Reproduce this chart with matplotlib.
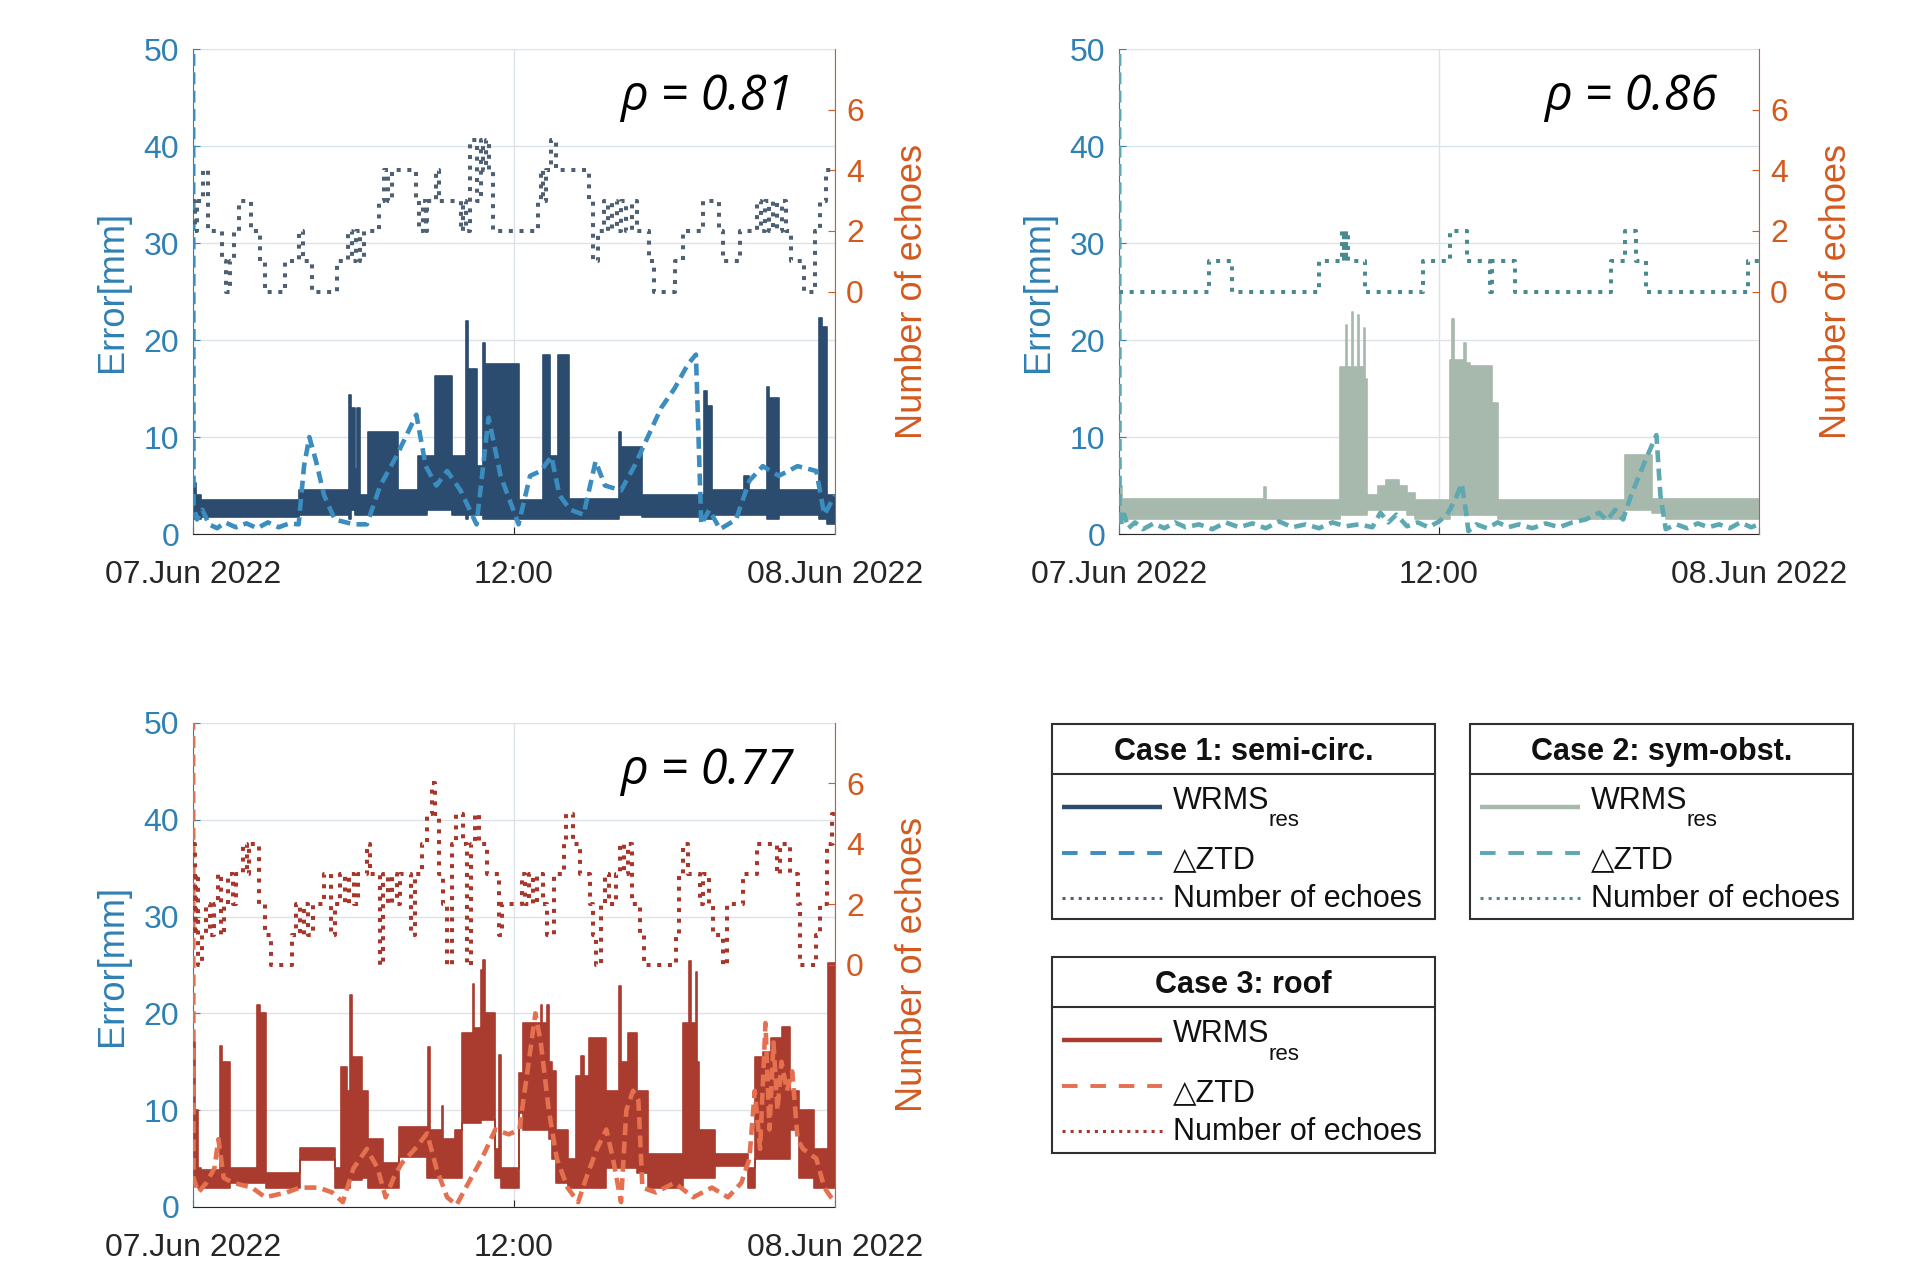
import numpy as np
import matplotlib.pyplot as plt
from matplotlib.patches import Rectangle

plt.rcParams['font.family'] = ['Liberation Sans', 'DejaVu Sans']

# time axis in hours after 07.Jun 2022 00:00
xticks = [0, 12, 24]
xticklabels = ['07.Jun 2022', '12:00', '08.Jun 2022']

# ---- Case 1: semi-circ. ----
t1_wrms = [0.0, 0.12, 0.3, 3.98, 5.85, 5.92, 6.05, 6.13, 6.24, 6.55, 7.65, 8.4, 8.74, 9.05, 9.67,
           10.22, 10.28, 10.61, 10.84, 10.9, 12.17, 13.1, 13.35, 13.65, 14.07, 15.91, 16.0, 16.77,
           19.1, 19.22, 19.4, 20.6, 20.8, 21.45, 21.55, 21.92, 23.4, 23.5, 23.7, 24.0]
lo1_wrms = [1.5, 1.5, 1.8, 2.0, 1.5, 2.5, 2.0, 2.0, 2.0, 2.0, 2.0, 2.0, 2.5, 2.5, 2.0,
            1.5, 2.0, 2.0, 1.5, 1.5, 1.5, 1.5, 1.5, 1.5, 1.5, 2.0, 2.0, 1.8,
            1.5, 1.5, 2.0, 2.0, 2.0, 1.5, 1.5, 2.0, 1.5, 1.5, 1.0, 1.0]
hi1_wrms = [5.3, 4.0, 3.5, 4.5, 14.3, 13.0, 6.7, 13.0, 4.0, 10.5, 4.5, 8.0, 8.0, 16.3, 8.0,
            22.0, 17.0, 7.0, 19.7, 17.5, 3.5, 18.5, 8.0, 18.5, 3.6, 10.5, 9.0, 4.0,
            14.7, 13.2, 4.5, 6.0, 4.5, 15.2, 14.0, 4.5, 22.3, 21.3, 4.0, 4.0]
t1_ztd = [0.0, 0.02, 0.15, 0.35, 0.6, 0.9, 1.2, 1.6, 2.0, 2.4, 2.8, 3.2, 3.6, 3.95, 4.15,
          4.35, 4.6, 4.9, 5.3, 6.0, 6.5, 7.0, 7.6, 8.35, 8.7, 9.1, 9.5, 10.0, 10.6, 11.05,
          11.5, 12.17, 12.6, 13.0, 13.4, 13.7, 14.1, 14.6, 15.05, 15.4, 16.0, 16.5, 17.0, 17.5,
          18.0, 18.5, 18.8, 19.0, 19.3, 19.7, 20.3, 20.8, 21.3, 21.9, 22.6, 23.3, 23.6, 24.0]
v1_ztd = [60, 3.0, 1.5, 2.5, 1.0, 0.6, 1.2, 0.7, 1.1, 0.6, 1.2, 0.7, 1.1, 1.0, 7.0,
          10.0, 7.5, 4.0, 1.5, 1.0, 1.0, 5.0, 8.0, 12.3, 7.0, 5.0, 6.5, 4.5, 1.0, 12.0,
          6.0, 1.0, 6.0, 6.5, 8.0, 4.0, 2.5, 2.0, 7.5, 5.0, 4.5, 7.0, 10.0, 13.0,
          15.0, 17.5, 18.5, 1.0, 2.5, 0.5, 1.5, 5.5, 7.0, 6.0, 7.0, 6.5, 2.0, 4.0]
t1_echo = [0.0, 0.08, 0.16, 0.39, 0.55, 1.09, 1.25, 1.40, 1.55, 1.72, 2.18, 2.50, 2.70, 3.43, 3.98,
           4.10, 4.45, 5.38, 5.80, 5.95, 6.10, 6.25, 6.40, 6.95, 7.15, 7.30, 7.45, 8.35, 8.45, 8.60,
           8.70, 8.75, 9.10, 9.20, 10.00, 10.10, 10.20, 10.37, 10.61, 10.76, 10.85, 10.95, 11.08,
           11.23, 12.90, 13.00, 13.10, 13.20, 13.40, 13.57, 14.82, 14.95, 15.15, 15.35, 15.50,
           15.65, 15.85, 16.00, 16.20, 16.40, 16.60, 17.05, 17.25, 18.00, 18.30, 19.05, 19.66,
           19.80, 20.45, 21.10, 21.25, 21.40, 21.55, 21.70, 21.85, 22.00, 22.15, 22.35, 22.85,
           23.25, 23.45, 23.65, 24.0]
n1_echo = [3, 2, 3, 4, 2, 1, 0, 1, 2, 3, 2, 1, 0, 1, 2,
           1, 0, 1, 2, 1, 2, 1, 2, 3, 4, 3, 4, 3, 2, 3,
           2, 3, 4, 3, 2, 3, 2, 5, 3, 5, 4, 5, 4,
           2, 3, 4, 3, 4, 5, 4, 3, 1, 2, 3, 2,
           3, 2, 3, 2, 3, 2, 1, 0, 1, 2, 3, 2,
           1, 2, 3, 2, 3, 2, 3, 2, 3, 2, 1, 0,
           2, 3, 4, 4]

# ---- Case 2: sym-obst. ----
t2_wrms = [0.0, 0.1, 5.45, 5.5, 8.28, 8.5, 8.55, 8.72, 8.77, 8.95, 9.0, 9.18, 9.23, 9.3, 9.7,
           10.0, 10.5, 10.8, 11.1, 12.42, 12.5, 12.55, 12.95, 13.0, 13.15, 13.98, 14.04, 14.22,
           18.98, 20.0, 20.5, 24.0]
lo2_wrms = [1.5, 1.5, 1.5, 1.5, 2.0, 2.0, 2.0, 2.0, 2.0, 2.0, 2.0, 2.0, 2.0, 2.5, 2.5,
            2.5, 2.5, 2.0, 1.5, 2.0, 2.0, 2.0, 2.0, 2.0, 2.0, 10.4, 2.0, 1.5,
            2.5, 2.2, 1.5, 1.5]
hi2_wrms = [5.0, 3.6, 4.9, 3.5, 17.2, 21.5, 17.2, 22.9, 17.2, 22.6, 17.2, 21.2, 16.0, 4.0, 5.0,
            5.6, 5.0, 4.2, 3.5, 17.9, 22.2, 17.9, 19.7, 17.6, 17.3, 13.5, 13.5, 3.5,
            8.1, 3.6, 3.6, 3.6]
t2_ztd = [0.0, 0.02, 0.1, 0.2, 0.35, 0.6, 0.9, 1.3, 1.7, 2.1, 2.5, 3.0, 3.5, 4.0, 4.5,
          5.0, 5.5, 6.0, 6.5, 7.0, 7.5, 8.0, 8.5, 9.0, 9.5, 9.8, 10.1, 10.4, 10.8, 11.2,
          11.6, 12.0, 12.3, 12.6, 12.85, 13.0, 13.1, 13.4, 13.8, 14.2, 14.6, 15.0, 15.5, 16.0,
          16.5, 17.0, 17.5, 18.0, 18.3, 18.6, 18.9, 19.2, 19.5, 19.8, 20.15, 20.3, 20.5, 20.9,
          21.3, 21.7, 22.1, 22.5, 22.9, 23.3, 23.7, 24.0]
v2_ztd = [60, 2.5, 1.0, 2.0, 0.6, 1.2, 0.5, 1.1, 0.6, 1.2, 0.7, 1.0, 0.5, 1.2, 0.7,
          1.1, 0.6, 1.3, 0.7, 1.0, 0.6, 1.2, 0.8, 1.0, 0.7, 2.2, 1.2, 2.0, 0.8, 1.2,
          0.7, 1.3, 2.0, 3.5, 5.2, 2.5, 0.3, 1.0, 0.6, 1.2, 0.7, 1.0, 0.6, 1.1,
          0.7, 1.2, 1.5, 2.2, 1.4, 2.5, 1.5, 4.0, 6.0, 8.0, 10.2, 4.0, 0.5, 1.0,
          0.6, 1.1, 0.7, 1.0, 0.6, 1.2, 0.7, 1.0]
t2_echo = [0, 3.36, 4.22, 7.5, 8.36, 8.45, 8.52, 8.59, 9.22, 11.41, 12.42, 13.05, 13.91, 13.98,
           14.84, 18.44, 18.98, 19.38, 19.77, 23.6, 24.0]
n2_echo = [0, 1, 0, 1, 2, 1, 2, 1, 0, 1, 2, 1, 0, 1, 0, 1, 2, 1, 0, 1, 1]

# ---- Case 3: roof ----
t3_wrms = [0.0, 0.08, 0.2, 0.3, 1.0, 1.08, 1.4, 2.4, 2.5, 2.73, 4.0, 5.3, 5.54, 5.75, 5.88,
           5.95, 6.3, 6.55, 7.1, 7.7, 8.74, 8.8, 8.86, 9.3, 9.36, 9.8, 10.05, 10.45, 10.5, 10.75,
           10.85, 10.92, 11.3, 11.45, 11.5, 12.17, 12.33, 13.0, 13.05, 13.25, 13.3, 13.42, 13.57,
           14.0, 14.3, 14.5, 14.6, 14.8, 15.45, 15.91, 16.0, 16.25, 16.6, 17.0, 18.33, 18.55,
           18.6, 18.8, 18.85, 18.9, 19.5, 20.75, 21.0, 21.3, 21.6, 22.0, 22.31, 22.65, 23.2,
           23.75, 24.0]
lo3_wrms = [3.0, 2.5, 2.0, 2.0, 2.0, 2.0, 2.5, 2.5, 2.5, 2.0, 4.9, 2.0, 2.0, 2.0, 2.8,
            2.8, 3.0, 2.0, 2.0, 5.2, 3.0, 3.0, 3.0, 3.0, 3.0, 3.0, 8.7, 8.7, 8.7, 9.0,
            9.0, 9.0, 3.0, 3.0, 2.0, 9.7, 8.0, 8.0, 8.0, 8.0, 7.0, 5.0, 2.5,
            2.0, 2.0, 2.0, 2.0, 2.0, 4.0, 4.0, 4.0, 4.0, 3.5, 2.0, 3.0, 3.0,
            3.0, 3.0, 3.0, 3.0, 4.2, 2.0, 5.0, 5.0, 5.0, 5.0, 8.0, 3.0, 2.0,
            2.0, 2.0]
hi3_wrms = [17.0, 10.0, 4.0, 3.8, 16.6, 15.0, 4.0, 20.9, 20.0, 3.5, 6.1, 4.0, 14.5, 12.0, 21.9,
            15.5, 12.0, 7.0, 4.5, 8.3, 6.0, 16.5, 8.0, 10.4, 7.0, 8.0, 18.0, 23.0, 18.5, 24.5,
            25.5, 20.0, 6.0, 15.7, 4.0, 13.8, 19.0, 20.9, 19.0, 20.9, 15.0, 14.0, 8.0,
            5.0, 13.5, 15.6, 13.5, 17.5, 12.0, 22.8, 15.0, 18.0, 12.0, 5.5, 19.0, 25.4,
            19.0, 24.3, 15.0, 8.0, 5.5, 4.0, 15.5, 16.0, 17.5, 18.6, 12.0, 10.0, 6.0,
            25.2, 25.2]
t3_ztd = [0.0, 0.02, 0.2, 0.5, 0.8, 0.95, 1.15, 1.5, 2.2, 2.7, 3.5, 4.0, 4.7, 5.2, 5.6,
          6.0, 6.5, 6.9, 7.2, 7.5, 7.8, 8.3, 8.75, 9.1, 9.5, 9.85, 10.3, 10.8, 11.3, 11.8,
          12.2, 12.5, 12.8, 13.0, 13.3, 13.6, 14.0, 14.4, 14.7, 15.1, 15.45, 15.7, 16.0, 16.2,
          16.45, 16.65, 16.8, 17.3, 18.0, 18.7, 19.4, 20.0, 20.5, 20.8, 21.0, 21.2, 21.4, 21.55,
          21.7, 21.85, 22.0, 22.2, 22.4, 22.6, 22.8, 23.3, 23.6, 23.85, 24.0]
v3_ztd = [60, 3.0, 1.5, 2.5, 4.0, 7.0, 3.0, 2.5, 2.0, 1.0, 1.5, 2.0, 2.0, 1.5, 0.5,
          4.0, 6.0, 4.0, 1.0, 3.0, 4.5, 6.0, 7.6, 4.0, 1.0, 0.2, 2.5, 5.0, 8.0, 7.5,
          8.0, 14.0, 20.0, 17.0, 10.0, 5.0, 2.0, 0.5, 3.0, 6.0, 8.0, 5.0, 0.5, 10.0,
          12.0, 11.0, 2.0, 1.5, 2.5, 1.0, 2.0, 1.0, 2.5, 5.0, 12.0, 6.0, 19.0, 8.0,
          17.0, 10.0, 15.0, 12.0, 14.0, 7.0, 6.0, 5.0, 2.0, 1.0, 0.5]
t3_echo = [0.00, 0.06, 0.12, 0.20, 0.35, 0.50, 0.65, 0.80, 0.95, 1.05, 1.15, 1.30, 1.50, 1.60,
           1.87, 2.00, 2.10, 2.45, 2.70, 2.90, 3.70, 3.85, 4.00, 4.15, 4.30, 4.50, 4.90, 5.15,
           5.30, 5.50, 5.70, 5.85, 6.00, 6.15, 6.50, 6.60, 7.00, 7.10, 7.30, 7.45, 7.64, 7.75,
           8.15, 8.30, 8.55, 8.75, 8.95, 9.05, 9.20, 9.35, 9.50, 9.70, 9.85, 10.10, 10.25,
           10.40, 10.55, 10.70, 11.00, 11.45, 11.55, 12.30, 12.40, 12.55, 12.70, 12.85, 13.10,
           13.25, 13.50, 13.88, 13.96, 14.20, 14.45, 14.85, 14.95, 15.05, 15.25, 15.40, 15.55,
           15.80, 15.95, 16.10, 16.25, 16.40, 16.70, 16.85, 18.05, 18.15, 18.30, 18.50, 18.95,
           19.05, 19.30, 19.45, 19.80, 19.95, 20.55, 21.10, 21.85, 21.95, 22.30, 22.60, 22.70,
           23.30, 23.45, 23.70, 23.87, 24.0]
n3_echo = [4, 1, 3, 0, 1, 2, 1, 2, 3, 1, 2, 3, 2, 3,
           4, 3, 4, 2, 1, 0, 1, 2, 1, 2, 1, 2, 3, 1,
           2, 3, 2, 3, 2, 3, 4, 3, 0, 3, 2, 3, 2, 3,
           1, 3, 4, 5, 6, 5, 3, 2, 0, 4, 5, 4, 0,
           4, 5, 4, 3, 1, 2, 3, 2, 3, 2, 3, 2,
           1, 3, 4, 5, 4, 3, 2, 1, 0, 2, 3, 2,
           3, 4, 3, 4, 2, 1, 0, 1, 3, 4, 3, 2,
           3, 2, 1, 0, 2, 3, 4, 3, 4, 3, 2, 0,
           1, 2, 4, 5, 5]

rhos = ['ρ = 0.81', 'ρ = 0.86', 'ρ = 0.77']
titles = ['Case 1: semi-circ.', 'Case 2: sym-obst.', 'Case 3: roof']
c_wrms = ['#2b4b6f', '#a6b9ac', '#aa3b2f']
c_ztd = ['#3b8cbf', '#5ea8b2', '#e4704f']
c_echo = ['#4f6073', '#4a8a8f', '#a8362a']

BLUE = '#2f80b4'
ORANGE = '#d35a1f'
DARK = '#262626'

fig = plt.figure(figsize=(19.32, 12.67), dpi=100)


def panel(rect, tw, lo, hi, tz, vz, te, ne, cw, cz, ce, rho):
    ax = fig.add_axes(rect)
    ax.grid(True, color='#dbe2e8', lw=1.0)
    ax.set_axisbelow(True)
    ax.fill_between(tw, lo, hi, step='post', color=cw, lw=1.2, zorder=2)
    ax.plot(tz, vz, color=cz, lw=3.3, dashes=(2.6, 1.4), zorder=3)
    ax.set_xlim(0, 24)
    ax.set_ylim(0, 50)
    ax.set_yticks([0, 10, 20, 30, 40, 50])
    ax.set_xticks(xticks)
    ax.set_xticklabels(xticklabels)
    ax.tick_params(axis='y', colors=BLUE, direction='in', labelsize=23, pad=10, length=5)
    ax.tick_params(axis='x', colors=DARK, direction='in', labelsize=23, pad=19, length=5)
    ax.set_ylabel('Error[mm]', color=BLUE, fontsize=26, labelpad=10)
    ax.spines['top'].set_visible(False)
    ax.spines['right'].set_visible(False)
    ax.spines['left'].set_color(BLUE)
    ax.spines['bottom'].set_color(DARK)

    ax2 = ax.twinx()
    ax2.step(te, ne, where='post', color=ce, lw=2.9, ls=':')
    ax2.set_ylim(-8, 8)
    ax2.set_yticks([0, 2, 4, 6])
    ax2.tick_params(axis='y', colors=ORANGE, direction='in', labelsize=23, pad=8, length=5)
    ax2.set_ylabel('Number of echoes', color=ORANGE, fontsize=26, labelpad=22)
    for s in ['top', 'left', 'bottom']:
        ax2.spines[s].set_visible(False)
    ax2.spines['right'].set_color(ORANGE)
    ax2.text(0.80, 0.90, rho, transform=ax2.transAxes, ha='center', va='center',
             fontsize=35, style='italic', family=['Open Sans', 'DejaVu Sans'], color='black')


panel([0.0999, 0.5785, 0.3323, 0.3828], t1_wrms, lo1_wrms, hi1_wrms, t1_ztd, v1_ztd,
      t1_echo, n1_echo, c_wrms[0], c_ztd[0], c_echo[0], rhos[0])
panel([0.5792, 0.5785, 0.3313, 0.3828], t2_wrms, lo2_wrms, hi2_wrms, t2_ztd, v2_ztd,
      t2_echo, n2_echo, c_wrms[1], c_ztd[1], c_echo[1], rhos[1])
panel([0.0999, 0.0474, 0.3323, 0.3820], t3_wrms, lo3_wrms, hi3_wrms, t3_ztd, v3_ztd,
      t3_echo, n3_echo, c_wrms[2], c_ztd[2], c_echo[2], rhos[2])

# legend boxes drawn in pixel coordinates
lax = fig.add_axes([0, 0, 1, 1])
lax.set_xlim(0, 1932)
lax.set_ylim(1267, 0)
lax.axis('off')


def legend_box(x0, x1, y0, y1, ysep, title, cw, cz, ce):
    lax.add_patch(Rectangle((x0, y0), x1 - x0, y1 - y0, fill=False, ec='#303030', lw=1.5))
    lax.plot([x0, x1], [ysep, ysep], color='#303030', lw=1.5)
    lax.text((x0 + x1) / 2, (y0 + ysep) / 2 + 3, title, ha='center', va='center',
             fontsize=22, fontweight='bold', color='#111111')
    lx = [x0 + 10, x0 + 110]
    tx = x0 + 121
    lax.plot(lx, [ysep + 33] * 2, color=cw, lw=3.2, solid_capstyle='butt')
    lax.text(tx, ysep + 27, 'WRMS', ha='left', va='center', fontsize=22, color='#111111')
    lax.text(tx + 96, ysep + 47, 'res', ha='left', va='center', fontsize=16, color='#111111')
    lax.plot(lx, [ysep + 79] * 2, color=cz, lw=2.8, dashes=(4, 3.3))
    lax.text(tx, ysep + 86, '△ZTD', ha='left', va='center', fontsize=22, color='#111111',
             family=['Liberation Sans', 'DejaVu Sans'])
    lax.plot(lx, [ysep + 124] * 2, color=ce, lw=2.2, ls=':')
    lax.text(tx, ysep + 125, 'Number of echoes', ha='left', va='center', fontsize=22,
             color='#111111')


legend_box(1052, 1435, 724, 919, 774, titles[0], c_wrms[0], c_ztd[0], c_echo[0])
legend_box(1470, 1853, 724, 919, 774, titles[1], c_wrms[1], c_ztd[1], c_echo[1])
legend_box(1052, 1435, 957, 1153, 1007, titles[2], c_wrms[2], c_ztd[2], c_echo[2])

fig.savefig('out.png', dpi=100)
